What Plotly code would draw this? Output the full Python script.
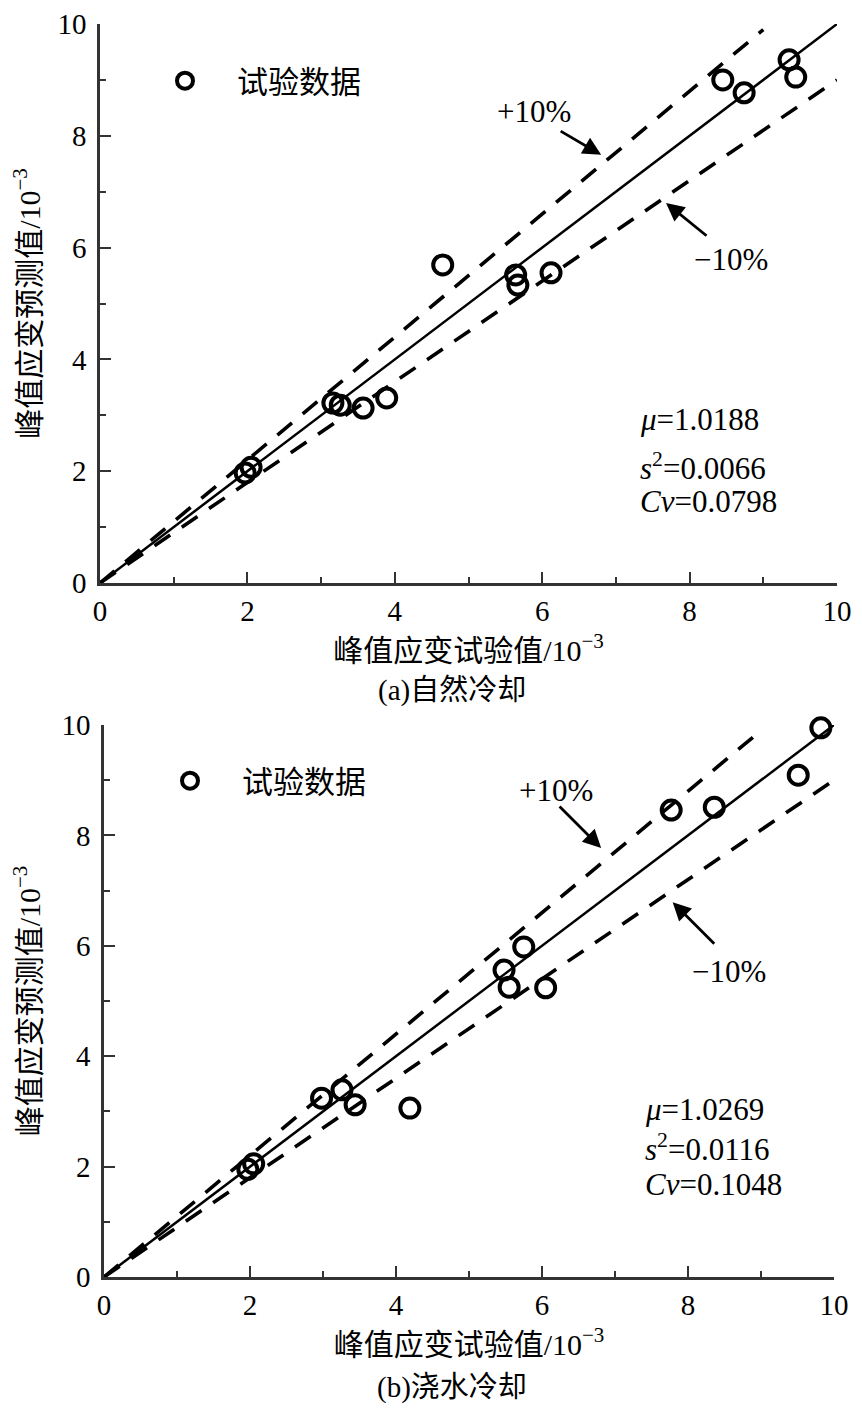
import plotly.graph_objects as go

# ---------------- data ----------------
# (a) natural cooling
a_test = [1.97, 2.05, 3.16, 3.26, 3.57, 3.89, 4.65, 5.64, 5.67, 6.12, 8.45, 8.74, 9.35, 9.44]
a_pred = [1.97, 2.07, 3.22, 3.18, 3.13, 3.31, 5.69, 5.51, 5.33, 5.55, 9.00, 8.77, 9.36, 9.05]
a_stats = ["<i>μ</i>=1.0188", "<i>s</i><sup>2</sup>=0.0066", "<i>Cv</i>=0.0798"]

# (b) water cooling
b_test = [1.97, 2.05, 2.98, 3.26, 3.44, 4.19, 5.48, 5.55, 5.75, 6.05, 7.77, 8.36, 9.51, 9.82]
b_pred = [1.95, 2.05, 3.24, 3.39, 3.12, 3.06, 5.56, 5.25, 5.98, 5.24, 8.46, 8.51, 9.09, 9.95]
b_stats = ["<i>μ</i>=1.0269", "<i>s</i><sup>2</sup>=0.0116", "<i>Cv</i>=0.1048"]

# reference lines (ratio pred/test = 1, 1.1, 0.9)
diag_x = [0, 10]
diag_y = [0, 10]
upper_x = [0, 9.0]
upper_y = [0, 9.9]
lower_x = [0, 10]
lower_y = [0, 9.0]

tick_vals = [0, 2, 4, 6, 8, 10]
tick_text = ["0", "2", "4", "6", "8", "10"]

legend_name = "试验数据"
x_title = "峰值应变试验值/10<sup>−3</sup>"
y_title = "峰值应变预测值/10<sup>−3</sup>"
captions = ["(a)自然冷却", "(b)浇水冷却"]

# page has an 8px body margin: work in screen pixels and convert
OFF = 8
W, H = 862 - 2 * OFF, 1417 - 2 * OFF


def px(x):
    return (x - OFF) / W


def py(y):
    return 1 - (y - OFF) / H


SERIF = "Liberation Serif"
CJK = "Liberation Serif, Noto Sans CJK SC"

fig = go.Figure()

panels = [
    dict(xs=a_test, ys=a_pred, stats=a_stats, xa="x", ya="y", legend="legend",
         xdom=[px(100), px(837)], ydom=[py(583), py(24)],
         stat_x=7.3, stat_y=[2.92, 2.08, 1.45],
         plus_txt=(5.89, 8.43), plus_arrow=((6.23, 8.10), (6.80, 7.66)),
         minus_txt=(8.56, 5.78), minus_arrow=((8.25, 6.19), (7.68, 6.80)),
         cap=(452, 690), leg=(125 + OFF, 46 + OFF)),
    dict(xs=b_test, ys=b_pred, stats=b_stats, xa="x2", ya="y2", legend="legend2",
         xdom=[px(104), px(834)], ydom=[py(1277), py(725)],
         stat_x=7.38, stat_y=[3.03, 2.34, 1.67],
         plus_txt=(6.19, 8.82), plus_arrow=((6.22, 8.55), (6.81, 7.77)),
         minus_txt=(8.56, 5.53), minus_arrow=((8.38, 6.01), (7.79, 6.79)),
         cap=(452, 1387), leg=(130 + OFF, 746 + OFF)),
]

annotations = []
for i, p in enumerate(panels):
    fig.add_trace(go.Scatter(x=diag_x, y=diag_y, mode="lines", xaxis=p["xa"], yaxis=p["ya"],
                             line=dict(color="black", width=2.5), showlegend=False))
    fig.add_trace(go.Scatter(x=upper_x, y=upper_y, mode="lines", xaxis=p["xa"], yaxis=p["ya"],
                             line=dict(color="black", width=3.6, dash="19px,14px"), showlegend=False))
    fig.add_trace(go.Scatter(x=lower_x, y=lower_y, mode="lines", xaxis=p["xa"], yaxis=p["ya"],
                             line=dict(color="black", width=3.6, dash="19px,14px"), showlegend=False))
    fig.add_trace(go.Scatter(x=p["xs"], y=p["ys"], mode="markers", xaxis=p["xa"], yaxis=p["ya"],
                             name=legend_name, legend=p["legend"], showlegend=True, cliponaxis=False,
                             marker=dict(symbol="circle-open", size=19, color="black",
                                         line=dict(width=4, color="black"))))
    xr = p["xa"]
    yr = p["ya"]
    for txt, sy in zip(p["stats"], p["stat_y"]):
        annotations.append(dict(x=p["stat_x"], y=sy, xref=xr, yref=yr, text=txt, showarrow=False,
                                xanchor="left", yanchor="middle",
                                font=dict(family=SERIF, size=31, color="black")))
    annotations.append(dict(x=p["plus_txt"][0], y=p["plus_txt"][1], xref=xr, yref=yr, text="+10%",
                            showarrow=False, font=dict(family=SERIF, size=31, color="black")))
    annotations.append(dict(x=p["minus_txt"][0], y=p["minus_txt"][1], xref=xr, yref=yr, text="−10%",
                            showarrow=False, font=dict(family=SERIF, size=31, color="black")))
    for (tail, head) in (p["plus_arrow"], p["minus_arrow"]):
        annotations.append(dict(x=head[0], y=head[1], ax=tail[0], ay=tail[1], xref=xr, yref=yr,
                                axref=xr, ayref=yr, text="", showarrow=True, arrowhead=2,
                                arrowsize=1.3, arrowwidth=2.8, arrowcolor="black"))
    annotations.append(dict(x=px(p["cap"][0]), y=py(p["cap"][1]), xref="paper", yref="paper",
                            text=captions[i], showarrow=False, xanchor="center", yanchor="middle",
                            font=dict(family=CJK, size=29, color="black")))

axis_common = dict(range=[0, 10], showline=True, linewidth=2.5, linecolor="#333",
                   ticks="inside", ticklen=11, tickwidth=2, tickcolor="#333",
                   tickvals=tick_vals, ticktext=tick_text, showgrid=False, zeroline=False,
                   minor=dict(ticks="inside", ticklen=6, tickwidth=2, tickcolor="#333", dtick=1,
                              showgrid=False),
                   automargin=False,
                   tickfont=dict(family=SERIF, size=29, color="black"), fixedrange=True)

title_font = dict(family=CJK, size=30, color="black")
legend_font = dict(family=CJK, size=31, color="black")

fig.update_layout(
    width=W, height=H, margin=dict(l=0, r=0, t=0, b=0, autoexpand=False),
    paper_bgcolor="white", plot_bgcolor="white",
    xaxis=dict(axis_common, domain=panels[0]["xdom"], anchor="y",
               title=dict(text=x_title, font=title_font)),
    yaxis=dict(axis_common, domain=panels[0]["ydom"], anchor="x", ticklabelstandoff=5,
               title=dict(text=y_title, font=title_font)),
    xaxis2=dict(axis_common, domain=panels[1]["xdom"], anchor="y2",
                title=dict(text=x_title, font=title_font)),
    yaxis2=dict(axis_common, domain=panels[1]["ydom"], anchor="x2", ticklabelstandoff=5,
                title=dict(text=y_title, font=title_font)),
    legend=dict(x=px(panels[0]["leg"][0]), y=py(panels[0]["leg"][1]), xanchor="left", yanchor="top",
                bgcolor="rgba(0,0,0,0)", font=legend_font, itemwidth=94),
    legend2=dict(x=px(panels[1]["leg"][0]), y=py(panels[1]["leg"][1]), xanchor="left", yanchor="top",
                 bgcolor="rgba(0,0,0,0)", font=legend_font, itemwidth=94),
    annotations=annotations,
    showlegend=True,
)

fig.write_html("out.html")
